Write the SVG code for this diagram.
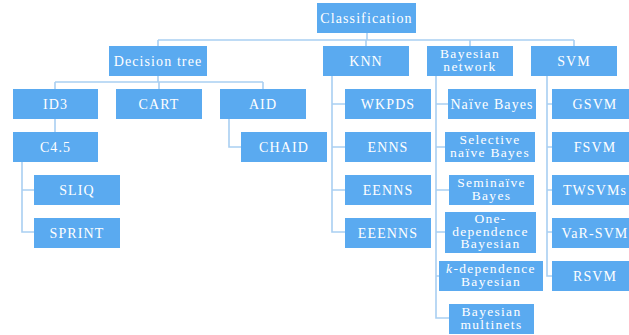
<svg xmlns="http://www.w3.org/2000/svg" width="629" height="335" viewBox="0 0 629 335">
<style>
.b{fill:#5aaaf0;}
.t{fill:#ffffff;font-family:"Liberation Serif","Times New Roman",serif;font-size:14px;letter-spacing:1.1px;text-anchor:middle;}
.m{font-size:13.5px;letter-spacing:1.3px;}
.c{fill:none;stroke:#a9cff2;stroke-width:1.6;}
</style>
<rect width="629" height="335" fill="#ffffff"/>
<g id="connectors" class="c">
<path d="M367 33V40M158 40H574M158 40V46M366 40V46M470 40V46M574 40V46"/>
<path d="M158 76V82M55 82H263M55 82V89M159 82V89M263 82V89"/>
<path d="M55 119V132"/>
<path d="M229 119V147H241"/>
<path d="M22 162V232H34M22 190H34"/>
<path d="M332 76V232H345M332 104H345M332 147H345M332 190H345"/>
<path d="M436 76V318H449M436 104H448M436 147H445M436 190H449M436 232H445M436 276H439"/>
<path d="M547 76V276H552M547 104H552M547 147H552M547 190H552M547 232H552"/>
</g>
<g id="classification"><rect class="b" x="317" y="3" width="99" height="30"/><text class="t" x="366.5" y="23">Classification</text></g>
<g id="decision-tree"><rect class="b" x="109" y="46" width="98" height="30"/><text class="t" x="158" y="66">Decision tree</text></g>
<g id="knn"><rect class="b" x="323" y="46" width="86" height="30"/><text class="t" x="366" y="66">KNN</text></g>
<g id="bayesian-network"><rect class="b" x="427" y="46" width="86" height="30"/><text class="t m" x="470" y="58">Bayesian</text><text class="t m" x="470" y="71">network</text></g>
<g id="svm"><rect class="b" x="531" y="46" width="86" height="30"/><text class="t" x="574" y="66">SVM</text></g>
<g id="id3"><rect class="b" x="13" y="89" width="85" height="30"/><text class="t" x="55.5" y="109">ID3</text></g>
<g id="cart"><rect class="b" x="116" y="89" width="86" height="30"/><text class="t" x="159" y="109">CART</text></g>
<g id="aid"><rect class="b" x="220" y="89" width="86" height="30"/><text class="t" x="263" y="109">AID</text></g>
<g id="c45"><rect class="b" x="13" y="132" width="85" height="30"/><text class="t" x="55.5" y="152">C4.5</text></g>
<g id="chaid"><rect class="b" x="241" y="132" width="86" height="30"/><text class="t" x="284" y="152">CHAID</text></g>
<g id="sliq"><rect class="b" x="34" y="175" width="86" height="30"/><text class="t" x="77" y="195">SLIQ</text></g>
<g id="sprint"><rect class="b" x="34" y="218" width="86" height="30"/><text class="t" x="77" y="238">SPRINT</text></g>
<g id="wkpds"><rect class="b" x="345" y="89" width="86" height="30"/><text class="t" x="388" y="109">WKPDS</text></g>
<g id="enns"><rect class="b" x="345" y="132" width="86" height="30"/><text class="t" x="388" y="152">ENNS</text></g>
<g id="eenns"><rect class="b" x="345" y="175" width="86" height="30"/><text class="t" x="388" y="195">EENNS</text></g>
<g id="eeenns"><rect class="b" x="345" y="218" width="86" height="30"/><text class="t" x="388" y="238">EEENNS</text></g>
<g id="naive-bayes"><rect class="b" x="448" y="89" width="88" height="30"/><text class="t" x="492" y="109">Naïve Bayes</text></g>
<g id="selective-naive-bayes"><rect class="b" x="445" y="132" width="90" height="30"/><text class="t m" x="490" y="144">Selective</text><text class="t m" x="490" y="157">naïve Bayes</text></g>
<g id="seminaive-bayes"><rect class="b" x="449" y="175" width="85" height="30"/><text class="t m" x="491.5" y="187">Seminaïve</text><text class="t m" x="491.5" y="200">Bayes</text></g>
<g id="one-dependence-bayesian"><rect class="b" x="445" y="212" width="91" height="41"/><text class="t m" x="490.5" y="223">One-</text><text class="t m" x="490.5" y="235.5">dependence</text><text class="t m" x="490.5" y="248">Bayesian</text></g>
<g id="k-dependence-bayesian"><rect class="b" x="439" y="261" width="104" height="30"/><text class="t m" x="491" y="273"><tspan font-style="italic">k</tspan>-dependence</text><text class="t m" x="491" y="286">Bayesian</text></g>
<g id="bayesian-multinets"><rect class="b" x="449" y="304" width="85" height="30"/><text class="t m" x="491.5" y="316">Bayesian</text><text class="t m" x="491.5" y="329">multinets</text></g>
<g id="gsvm"><rect class="b" x="552" y="89" width="86" height="30"/><text class="t" x="595" y="109">GSVM</text></g>
<g id="fsvm"><rect class="b" x="552" y="132" width="86" height="30"/><text class="t" x="595" y="152">FSVM</text></g>
<g id="twsvms"><rect class="b" x="552" y="175" width="86" height="30"/><text class="t" x="595" y="195">TWSVMs</text></g>
<g id="var-svm"><rect class="b" x="552" y="218" width="86" height="30"/><text class="t" x="595" y="238">VaR-SVM</text></g>
<g id="rsvm"><rect class="b" x="552" y="261" width="86" height="30"/><text class="t" x="595" y="281">RSVM</text></g>
</svg>
